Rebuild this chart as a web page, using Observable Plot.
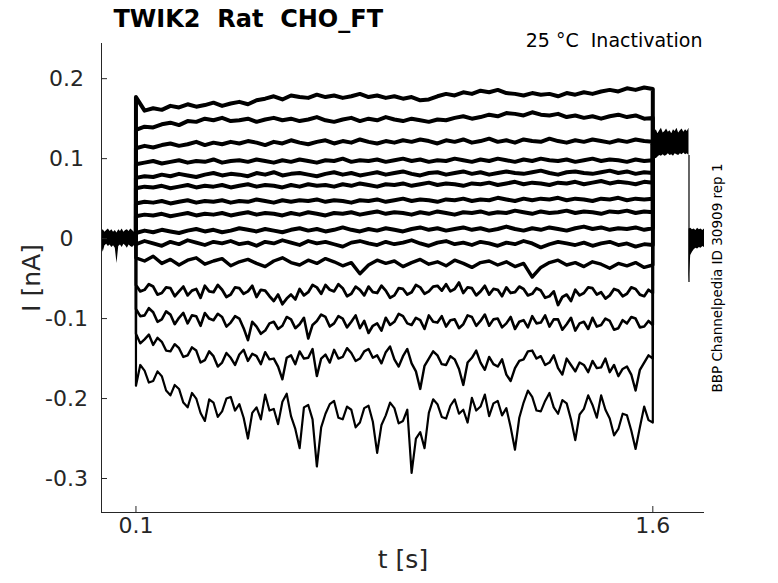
<!DOCTYPE html>
<html><head><meta charset="utf-8">
<script src="https://cdn.jsdelivr.net/npm/d3@7"></script>
<script src="https://cdn.jsdelivr.net/npm/@observablehq/plot@0.6"></script>
<style>
body{margin:0;background:#fff}
#wrap{position:relative;width:778px;height:583px;background:#fff}
svg text{white-space:pre}
</style></head><body>
<div id="wrap"></div>
<script>
// ---- axes / labels ----
const titleText = "TWIK2  Rat  CHO_FT";
const subtitleText = "25 °C  Inactivation";
const sideText = "BBP Channelpedia ID 30909 rep 1";
const xLabel = "t [s]";
const yLabel = "I [nA]";
const xDomain = [0, 1.75];
const yDomain = [-0.3425, 0.244];
const xTicks = [0.1, 1.6];
const xTickLabels = ["0.1", "1.6"];
const yTicks = [0.2, 0.1, 0, -0.1, -0.2, -0.3];
const yTickLabels = ["0.2", "0.1", "0", "-0.1", "-0.2", "-0.3"];

// ---- protocol timing (s) ----
const stepStart = 0.1, stepEnd = 1.6;
const holdingPA = 0;

// ---- pre-step segment (pA) ----
const preT  = [0,0.005,0.01,0.015,0.02,0.025,0.03,0.035,0.04,0.045,0.05,0.055,0.06,0.065,0.07,0.075,0.08,0.085,0.09,0.095,0.1];
const preHi = [9,11,8,10,12,9,11,8,10,7,11,9,12,8,10,11,9,12,10,8,11];
const preLo = [-8,-17,-9,-7,-10,-8,-11,-9,-12,-31,-10,-8,-11,-7,-9,-12,-8,-10,-11,-9,-10];

// ---- tail segment after the step (pA) ----
const tailT  = [1.6,1.605,1.61,1.615,1.62,1.625,1.63,1.635,1.64,1.645,1.65,1.655,1.66,1.665,1.67,1.675,1.68,1.685,1.69,1.695,1.7,1.705];
const tailHi = [137,133,136,131,135,138,132,134,137,133,135,131,136,134,138,132,135,137,133,136,134,138];
const tailLo = [99,101,100,102,104,103,105,103,104,106,104,105,103,106,105,104,106,105,107,105,106,104];

// ---- final segment (pA) ----
const finT  = [1.705,1.71,1.715,1.72,1.725,1.73,1.735,1.74,1.745,1.75];
const finHi = [12,13,11,12,10,13,11,12,10,12];
const finLo = [-55,-21,-17,-14,-12,-13,-11,-12,-10,-11];

// ---- step traces, pA, sampled evenly from 0.1 s to 1.6 s ----
const T1  = [177,160,163,161,166,164,168,165,167,170,166,169,171,168,173,175,178,174,179,177,176,180,177,179,176,178,181,177,179,176,178,175,177,173,174,178,181,179,183,181,185,183,186,182,181,179,182,180,181,178,182,180,183,181,184,186,184,188,186,189,187];
const T2  = [136,140,139,143,145,142,147,146,150,148,151,147,148,150,146,149,151,148,150,147,149,152,148,146,149,151,147,150,148,152,149,147,150,148,146,149,148,151,153,150,152,155,153,157,156,154,158,155,154,156,152,154,151,153,150,153,155,152,154,150,151];
const T3  = [113,116,114,117,119,116,118,121,117,120,118,121,119,122,120,117,121,119,123,120,118,121,123,119,122,120,124,121,119,122,120,123,121,124,122,119,123,121,124,120,122,125,121,123,120,124,122,121,125,122,120,123,121,124,122,120,123,121,124,122,121];
const T4  = [93,95,97,94,96,98,95,97,96,99,95,97,98,96,99,97,95,98,96,99,97,95,98,97,100,96,98,97,99,96,98,100,97,99,96,98,97,100,98,96,99,97,100,98,96,99,97,100,98,97,99,96,98,100,97,99,98,96,99,97,98];
const T5  = [76,78,77,80,78,81,79,77,80,82,79,81,80,78,82,80,83,79,81,82,80,78,81,83,80,82,79,81,83,80,82,84,81,79,82,83,80,82,84,81,83,80,82,84,82,81,83,85,82,80,83,84,82,81,83,85,82,84,81,83,82];
const T6  = [63,65,64,66,63,65,67,64,66,65,67,64,66,68,65,67,66,64,67,65,68,66,67,65,68,66,69,67,65,68,67,69,66,68,70,67,69,68,66,69,68,70,67,69,71,68,70,69,67,70,69,71,68,70,72,69,71,70,68,71,70];
const T7  = [44,46,45,47,44,46,48,45,47,46,48,45,47,46,49,47,45,48,46,48,47,49,46,48,47,45,48,47,49,46,48,50,47,49,48,46,49,48,50,47,49,48,51,49,47,50,48,50,49,51,48,50,49,47,50,49,51,48,50,49,50];
const T8  = [28,30,29,31,28,30,32,29,31,30,32,29,31,33,30,32,31,29,32,30,33,31,29,32,31,33,30,32,34,31,33,32,30,33,31,34,32,30,33,32,34,31,33,32,35,33,31,34,32,33,35,32,34,33,31,34,33,35,32,34,33];
const T9  = [7,10,8,11,9,7,10,12,9,11,8,10,13,11,9,12,10,8,11,13,10,12,9,11,14,11,9,12,10,13,11,9,12,14,11,13,10,12,14,11,13,10,12,15,12,10,13,11,14,12,10,13,15,12,14,11,13,12,14,11,13];
const T10 = [-7,-3,-6,-9,-4,-7,-2,-5,-8,-4,-6,-3,-7,-5,-9,-4,-6,-2,-5,-8,-3,-6,-4,-7,-10,-5,-3,-6,-8,-4,-7,-5,-2,-6,-9,-5,-3,-7,-5,-8,-4,-6,-9,-5,-7,-3,-6,-11,-7,-4,-6,-8,-5,-9,-6,-4,-8,-6,-10,-7,-8];
const T11 = [-24,-28,-22,-31,-26,-33,-27,-24,-32,-28,-25,-34,-29,-26,-31,-35,-28,-24,-30,-33,-27,-31,-25,-29,-34,-30,-44,-33,-27,-31,-28,-35,-30,-26,-32,-29,-34,-27,-31,-36,-30,-28,-33,-29,-35,-31,-48,-36,-30,-27,-33,-30,-35,-29,-32,-37,-31,-34,-30,-36,-33];
const T12 = [-58,-66,-64,-57,-60,-70,-68,-61,-62,-72,
  -66,-60,-71,-65,-63,-74,-59,-66,-67,-58,
  -64,-73,-70,-61,-62,-69,-66,-59,-73,-64,
  -65,-72,-78,-70,-82,-75,-70,-76,-63,-71,
  -67,-58,-61,-69,-58,-64,-66,-57,-62,-72,
  -69,-60,-64,-71,-60,-67,-68,-59,-65,-74,
  -71,-62,-63,-70,-67,-58,-61,-69,-66,-60,
  -59,-65,-57,-66,-63,-55,-68,-61,-62,-71,
  -66,-59,-70,-63,-64,-72,-61,-68,-67,-60,
  -63,-71,-69,-62,-65,-74,-72,-66,-83,-73,
  -70,-78,-64,-71,-68,-61,-62,-70,-67,-75,
  -71,-63,-65,-72,-69,-61,-63,-70,-72,-64,
  -68];
const T13 = [-88,-97,-96,-87,-92,-104,-101,-91,-95,-107,
  -99,-93,-106,-96,-97,-109,-93,-100,-102,-94,
  -98,-110,-105,-97,-100,-112,-127,-104,-110,-119,
  -115,-106,-104,-113,-109,-98,-101,-112,-107,-99,
  -125,-108,-103,-95,-98,-110,-106,-97,-100,-111,
  -104,-96,-112,-103,-118,-109,-106,-115,-99,-108,
  -104,-94,-97,-106,-108,-99,-102,-113,-96,-104,
  -105,-97,-110,-102,-101,-112,-107,-96,-98,-109,
  -103,-95,-109,-101,-100,-111,-106,-98,-113,-104,
  -102,-111,-97,-106,-105,-96,-110,-101,-101,-114,
  -107,-99,-115,-106,-104,-113,-99,-110,-108,-100,
  -103,-114,-112,-102,-106,-98,-100,-111,-110,-103,
  -108];
const T14 = [-119,-131,-126,-120,-133,-124,-129,-140,-141,-132,
  -137,-148,-146,-136,-140,-155,-152,-141,-147,-160,
  -155,-143,-149,-158,-145,-139,-153,-144,-147,-157,
  -142,-151,-150,-160,-176,-149,-146,-157,-141,-150,
  -149,-138,-172,-150,-145,-155,-139,-150,-148,-137,
  -143,-153,-150,-141,-138,-149,-146,-156,-142,-135,
  -151,-160,-147,-138,-156,-166,-188,-159,-150,-141,
  -146,-157,-158,-147,-151,-163,-183,-155,-149,-140,
  -155,-164,-148,-157,-160,-151,-170,-178,-162,-153,
  -151,-141,-140,-150,-147,-158,-155,-146,-162,-170,
  -150,-158,-166,-155,-158,-167,-153,-162,-161,-150,
  -167,-158,-172,-163,-160,-170,-190,-164,-155,-146,
  -150];
const T15 = [-184,-158,-165,-180,-178,-166,-172,-190,-196,-183,
  -188,-205,-211,-193,-200,-218,-228,-201,-205,-223,
  -216,-200,-198,-215,-207,-224,-250,-218,-211,-226,
  -195,-215,-213,-232,-204,-194,-222,-238,-262,-211,
  -208,-226,-285,-236,-219,-207,-203,-224,-226,-210,
  -214,-236,-230,-212,-209,-229,-268,-233,-221,-205,
  -212,-231,-228,-214,-293,-250,-242,-262,-218,-201,
  -207,-223,-225,-209,-201,-219,-214,-230,-199,-215,
  -210,-195,-222,-206,-203,-221,-212,-236,-264,-224,
  -205,-190,-198,-215,-216,-203,-193,-211,-219,-202,
  -206,-226,-252,-220,-213,-196,-208,-224,-196,-214,
  -225,-246,-238,-219,-221,-240,-263,-236,-210,-227,
  -230];
const traces = [T1,T2,T3,T4,T5,T6,T7,T8,T9,T10,T11,T12,T13,T14,T15];

// ---- styles (line widths per trace) ----
const traceWidths = [4,4,4,4,4,4,4,4,4,3.8,3.4,2.8,2.6,2.4,2.2];

// ---- build tables ----
const nA = pA => pA / 1000;
const tailStart = (tailHi[0] + tailLo[0]) / 2;
const traceRows = traces.map((vals, i) => {
  const n = vals.length;
  const pts = [{trace: i, t: stepStart, v: nA(holdingPA)}];
  vals.forEach((p, k) => pts.push({trace: i, t: stepStart + (stepEnd - stepStart) * k / (n - 1), v: nA(p)}));
  pts.push({trace: i, t: stepEnd, v: nA(tailStart)});
  return pts;
});
const band = (T, hi, lo) => T.map((t, i) => ({t, hi: nA(hi[i]), lo: nA(lo[i])}));
const preRows = band(preT, preHi, preLo);
const tailRows = band(tailT, tailHi, tailLo);
const finRows = band(finT, finHi, finLo);

const axisColor = "#262626";
const chart = Plot.plot({
  width: 778, height: 583,
  marginLeft: 101, marginRight: 74, marginTop: 43, marginBottom: 71,
  style: {fontFamily: "'DejaVu Sans', sans-serif", background: "white", overflow: "visible"},
  x: {domain: xDomain, axis: null},
  y: {domain: yDomain, axis: null},
  marks: [
    Plot.areaY(preRows, {x: "t", y1: "lo", y2: "hi", fill: "black"}),
    Plot.areaY(tailRows, {x: "t", y1: "lo", y2: "hi", fill: "black"}),
    Plot.areaY(finRows, {x: "t", y1: "lo", y2: "hi", fill: "black"}),
    Plot.ruleX([finT[0]], {y1: nA(tailLo[tailLo.length - 1]), y2: nA(finLo[0]), stroke: "black", strokeWidth: 1.2}),
    ...traceRows.map((rows, i) => Plot.line(rows, {x: "t", y: "v", stroke: "black", strokeWidth: traceWidths[i], strokeLinejoin: "round"})),
    Plot.ruleX([xDomain[0]], {stroke: axisColor, strokeWidth: 1}),
    Plot.ruleY([yDomain[0]], {stroke: axisColor, strokeWidth: 1}),
    Plot.axisY(yTicks, {tickSize: 6, dx: 6, tickFormat: () => "", label: null, stroke: axisColor}),
    Plot.axisX(xTicks, {tickSize: 6, dy: -6, tickFormat: () => "", label: null, stroke: axisColor}),
    Plot.text(yTicks, {y: d => d, text: (d, i) => yTickLabels[i], frameAnchor: "left", dx: -35, textAnchor: "middle", fontSize: 22, fill: axisColor}),
    Plot.text(xTicks, {x: d => d, text: (d, i) => xTickLabels[i], frameAnchor: "bottom", dy: 20, textAnchor: "middle", fontSize: 22, fill: axisColor}),
    Plot.text([xLabel], {text: d => d, frameAnchor: "bottom", dy: 55, textAnchor: "middle", fontSize: 25, fill: axisColor}),
    Plot.text([yLabel], {text: d => d, frameAnchor: "left", dx: -70, rotate: -90, textAnchor: "middle", fontSize: 25, fill: axisColor}),
    Plot.text([titleText], {text: d => d, frameAnchor: "top-left", dx: 12, dy: -34, textAnchor: "start", lineAnchor: "top", fontSize: 24, fontWeight: "bold", fill: "black"}),
    Plot.text([subtitleText], {text: d => d, frameAnchor: "top-right", dx: -2, dy: -10, textAnchor: "end", lineAnchor: "top", fontSize: 19, fill: "black"}),
    Plot.text([sideText], {text: d => d, frameAnchor: "right", dx: 12.7, rotate: -90, textAnchor: "middle", fontSize: 13.5, fill: "black"})
  ]
});
document.getElementById("wrap").appendChild(chart);
</script>
</body></html>
